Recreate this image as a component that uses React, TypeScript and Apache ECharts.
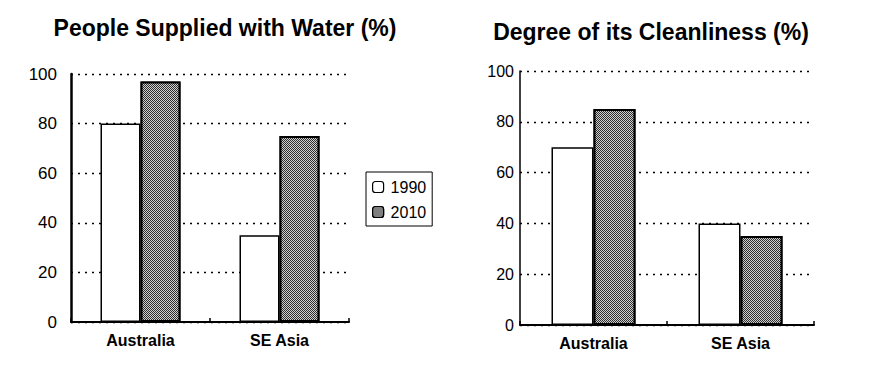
import React, { useEffect, useRef } from "react";
import * as echarts from "echarts";

const categories = ["Australia", "SE Asia"];
const seriesNames = ["1990", "2010"];
const waterSupplied1990 = [80, 35];
const waterSupplied2010 = [97, 75];
const cleanliness1990 = [70, 40];
const cleanliness2010 = [85, 35];
const yTicks = [0, 20, 40, 60, 80, 100];
const titles = ["People Supplied with Water (%)", "Degree of its Cleanliness (%)"];

const FONT = "'Liberation Sans', Arial, Helvetica, sans-serif";

const stipple = {
  symbol: "rect",
  symbolSize: 1,
  dashArrayX: [[1, 1], [0, 1, 1, 0]],
  dashArrayY: [1, 0],
  color: "#d0d0d0",
  rotation: 0,
};

export default function App() {
  const ref = useRef<HTMLDivElement>(null);
  useEffect(() => {
    document.body.style.margin = "0";
    const chart = echarts.init(ref.current!, null, { renderer: "svg" });
    const yAxisCommon = (idx: number, size: number, margin: number, lineW: number) => ({
      type: "value",
      gridIndex: idx,
      min: yTicks[0],
      max: yTicks[yTicks.length - 1],
      interval: 20,
      axisLine: { show: true, lineStyle: { color: "#000", width: lineW } },
      axisTick: { show: false },
      axisLabel: { color: "#000", fontSize: size, fontFamily: FONT, margin },
      splitLine: { show: true, lineStyle: { color: "#000", type: [2, 5], width: 1.3 } },
    });
    const xAxisCommon = (idx: number) => ({
      type: "category",
      gridIndex: idx,
      data: categories,
      axisLine: { show: true, lineStyle: { color: "#000", width: 2 } },
      axisTick: { show: true, inside: true, length: 4, interval: 0, lineStyle: { color: "#000", width: 1.5 } },
      axisLabel: { color: "#000", fontSize: 16, fontWeight: "bold", fontFamily: FONT, margin: 10 },
      splitLine: { show: false },
    });
    const whiteBar = (name: string, data: number[], idx: number, w: number) => ({
      name,
      type: "bar",
      xAxisIndex: idx,
      yAxisIndex: idx,
      data,
      barWidth: w,
      barGap: "0%",
      itemStyle: { color: "#fff", borderColor: "#000", borderWidth: 1.5 },
    });
    const darkBar = (name: string, data: number[], idx: number, w: number) => ({
      name,
      type: "bar",
      xAxisIndex: idx,
      yAxisIndex: idx,
      data,
      barWidth: w,
      barGap: "0%",
      itemStyle: { color: "#2e2e2e", borderColor: "#000", borderWidth: 2, decal: stipple },
    });
    chart.setOption({
      animation: false,
      backgroundColor: "#fff",
      graphic: [
        {
          type: "text",
          x: 225,
          y: 28,
          style: { text: titles[0], font: `bold 23px ${FONT}`, fill: "#000", textAlign: "center", textVerticalAlign: "middle" },
        },
        {
          type: "text",
          x: 651,
          y: 32,
          style: { text: titles[1], font: `bold 23px ${FONT}`, fill: "#000", textAlign: "center", textVerticalAlign: "middle" },
        },
      ],
      legend: {
        orient: "vertical",
        left: 366,
        top: 172,
        data: seriesNames,
        borderColor: "#000",
        borderWidth: 1,
        padding: [7, 6, 6, 6],
        itemGap: 9,
        itemWidth: 11,
        itemHeight: 11,
        itemStyle: { borderColor: "#000", borderWidth: 1.2 },
        textStyle: { color: "#000", fontSize: 16, fontFamily: FONT, padding: [0, 0, 0, 2] },
      },
      grid: [
        { left: 71, top: 74, width: 278, height: 248 },
        { left: 520, top: 71, width: 294, height: 254 },
      ],
      xAxis: [xAxisCommon(0), xAxisCommon(1)],
      yAxis: [yAxisCommon(0, 17, 14, 2.5), yAxisCommon(1, 16, 6, 1.5)],
      series: [
        whiteBar(seriesNames[0], waterSupplied1990, 0, 40),
        darkBar(seriesNames[1], waterSupplied2010, 0, 40),
        whiteBar(seriesNames[0], cleanliness1990, 1, 42),
        darkBar(seriesNames[1], cleanliness2010, 1, 42),
      ],
    });
    return () => chart.dispose();
  }, []);
  return <div ref={ref} style={{ position: "fixed", left: 0, top: 0, width: 882, height: 377 }} />;
}
